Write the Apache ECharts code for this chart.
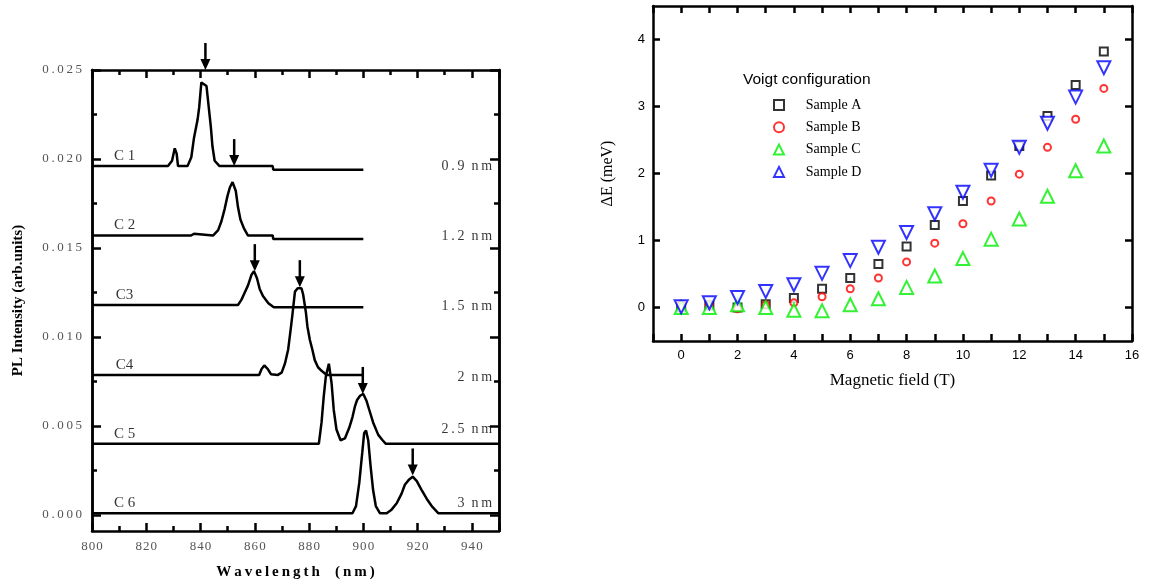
<!DOCTYPE html>
<html><head><meta charset="utf-8">
<script src="https://cdn.jsdelivr.net/npm/echarts@6/dist/echarts.min.js"></script>
<style>html,body{margin:0;padding:0;background:#fff}#c{width:1149px;height:588px}</style>
</head><body><div id="c"></div>
<script>
// ---------- Left panel: PL spectra [wavelength (nm), intensity] ----------
const c1 = [[800,0.0196],[828,0.0196],[829.5,0.0199],[830.5,0.0206],[831.2,0.0203],[831.7,0.0196],[835.2,0.0196],[836.6,0.0201],[837.6,0.0212],[838.9,0.0222],[839.5,0.0229],[840.3,0.0243],[840.9,0.0244],[842.2,0.0241],[843.1,0.0228],[843.8,0.0218],[844.4,0.0207],[845.2,0.0199],[847,0.0196],[866.6,0.0196],[866.8,0.0194],[900,0.0194]];
const c2 = [[800,0.0157],[836.5,0.0157],[836.6,0.0158],[837.6,0.0158],[837.7,0.0157],[844.6,0.0157],[846.5,0.0160],[847.7,0.0165],[848.9,0.0172],[849.9,0.0179],[850.8,0.0184],[851.8,0.0187],[853,0.0182],[853.8,0.0173],[854.7,0.0166],[856,0.0161],[857.5,0.0157],[866.6,0.0157],[866.8,0.0155],[900,0.0155]];
const c3 = [[800,0.0118],[853.8,0.0118],[855.1,0.0121],[856.3,0.0125],[857.5,0.0129],[858.8,0.0135],[859.7,0.0137],[860.8,0.0133],[861.8,0.0127],[863,0.0123],[865,0.0119],[867,0.01167],[900,0.01167]];
const c4 = [[800,0.00787],[861.6,0.00787],[862.5,0.0082],[863.5,0.0084],[864.8,0.0082],[866,0.0079],[868.5,0.00787],[869.9,0.0080],[871.1,0.0085],[872.3,0.0093],[873.2,0.0104],[873.9,0.0113],[874.8,0.01255],[875.8,0.01274],[877.2,0.01274],[877.8,0.0124],[878.8,0.01142],[879.4,0.01058],[880.3,0.00983],[881.2,0.0093],[882.1,0.0087],[883.3,0.0083],[884.6,0.0081],[886.5,0.00787],[900,0.00787]];
const c5 = [[800,0.0040],[883.6,0.0040],[884.6,0.0052],[885.4,0.00665],[886.2,0.0078],[887.3,0.0085],[888.3,0.0074],[889.1,0.0059],[890.1,0.0048],[891.6,0.0042],[893.2,0.0043],[894.8,0.0049],[896,0.0055],[896.9,0.0061],[897.7,0.00646],[898.8,0.0067],[900,0.0068],[901.2,0.0064],[902.4,0.0058],[903.6,0.0052],[905.5,0.0045],[907.1,0.0042],[908.3,0.0040],[950,0.0040]];
const c6 = [[800,0.0001],[896,0.0001],[897.3,0.0005],[898.5,0.0018],[899.6,0.0035],[900.3,0.0046],[901,0.00474],[901.8,0.0042],[902.7,0.0027],[903.6,0.0014],[904.6,0.0005],[906.1,0.0001],[908.6,0.0001],[910.4,0.0003],[912.3,0.00066],[914.1,0.0012],[915.3,0.0017],[916.9,0.0020],[918.2,0.00215],[919.7,0.0019],[921.5,0.0014],[923.4,0.0009],[925.2,0.0005],[927.6,0.0001],[950,0.0001]];
const spectra = [c1, c2, c3, c4, c5, c6];
const curveNames = ['C 1','C 2','C3','C4','C 5','C 6'];
const widthLabels = ['0.9 nm','1.2 nm','1.5 nm','2 nm','2.5 nm','3 nm'];
const baselines = [0.0196, 0.0157, 0.0118, 0.00787, 0.0040, 0.0001];
const arrowTips = [[841.8,0.0250],[852.4,0.0196],[860.0,0.0137],[876.6,0.0128],[899.8,0.0068],[918.2,0.00222]];
const leftYMajor = [0, 0.005, 0.010, 0.015, 0.020, 0.025];
const leftYMinor = [0, 0.0025, 0.005, 0.0075, 0.010, 0.0125, 0.015, 0.0175, 0.020, 0.0225, 0.025];

// ---------- Right panel: Zeeman splitting ----------
const fields = [0,1,2,3,4,5,6,7,8,9,10,11,12,13,14,15];
const sampleA = [0.00,0.03,0.00,0.05,0.14,0.28,0.44,0.65,0.91,1.23,1.59,1.97,2.41,2.86,3.32,3.82];
const sampleB = [0.05,0.04,-0.02,0.04,0.07,0.16,0.28,0.44,0.68,0.96,1.25,1.59,1.99,2.39,2.81,3.27];
const sampleC = [0.00,0.00,0.04,0.00,-0.04,-0.05,0.04,0.13,0.30,0.47,0.73,1.02,1.32,1.66,2.04,2.41];
const sampleD = [0.01,0.07,0.15,0.24,0.34,0.51,0.70,0.90,1.12,1.40,1.72,2.05,2.39,2.75,3.14,3.58];
const rightYTicks = [0,1,2,3,4];

const SERIF = '"Liberation Serif","Times New Roman",serif';
const SANS = '"Liberation Sans",Arial,sans-serif';
const thin = s => String(s).split('').join('\u2009');
const hair = s => String(s).split('').join('\u200A');

const pair = arr => fields.map((f, i) => [f, arr[i]]);

const axisLine = {show: true, onZero: false, lineStyle: {color: '#000', width: 2.5}};
function leftY(pos, values, len, labels) {
  return {
    type: 'value', gridIndex: 0, position: pos, min: -0.0009, max: 0.025,
    axisLine, splitLine: {show: false},
    axisTick: {show: true, inside: true, length: len, lineStyle: {width: 2.5, color: '#000'}, customValues: values},
    axisLabel: labels ? {show: true, customValues: leftYMajor, margin: 10, fontFamily: SERIF, fontSize: 13, color: '#555', formatter: v => thin(v.toFixed(3))} : {show: false}
  };
}
function rightY(pos, labels) {
  return {
    type: 'value', gridIndex: 1, position: pos, min: -0.5, max: 4.5,
    axisLine, splitLine: {show: false},
    axisTick: {show: true, inside: true, length: 7, lineStyle: {width: 2.5, color: '#000'}, customValues: rightYTicks},
    axisLabel: labels ? {show: true, customValues: rightYTicks, margin: 8, fontFamily: SANS, fontSize: 13, color: '#000'} : {show: false}
  };
}

const series = [];
spectra.forEach((d, i) => series.push({
  type: 'line', xAxisIndex: 0, yAxisIndex: 0, data: d, showSymbol: false, symbol: 'none',
  lineStyle: {color: '#000', width: 2.5}, silent: true, z: 3
}));
series.push({
  type: 'custom', xAxisIndex: 0, yAxisIndex: 0, data: arrowTips, clip: false, z: 5,
  renderItem: (params, api) => {
    const p = api.coord([api.value(0), api.value(1)]);
    const L = 27, H = 11, W = 10;
    return {type: 'group', children: [
      {type: 'line', shape: {x1: p[0], y1: p[1] - L, x2: p[0], y2: p[1] - H + 1}, style: {stroke: '#000', lineWidth: 2.5}},
      {type: 'polygon', shape: {points: [[p[0] - W / 2, p[1] - H], [p[0] + W / 2, p[1] - H], [p[0], p[1]]]}, style: {fill: '#000'}}
    ]};
  }
});
const rightOffsets = [0, 1, 1, 2, -14, -10];
series.push({
  type: 'scatter', xAxisIndex: 0, yAxisIndex: 0, symbolSize: 1, itemStyle: {color: 'transparent'}, silent: true, z: 6,
  data: baselines.map((b, i) => ({value: [812, b], label: {formatter: curveNames[i]}})),
  label: {show: true, position: 'inside', offset: [0, -10], fontFamily: SERIF, fontSize: 15, color: '#000'}
});
series.push({
  type: 'scatter', xAxisIndex: 0, yAxisIndex: 0, symbolSize: 1, itemStyle: {color: 'transparent'}, silent: true, z: 6,
  data: baselines.map((b, i) => ({value: [947.5, b], label: {offset: [0, rightOffsets[i]]}})),
  label: {show: true, position: 'inside', align: 'right', fontFamily: SERIF, fontSize: 14, color: '#000',
    formatter: p => { const s = widthLabels[p.dataIndex].split(' '); return thin(s[0]) + '  ' + thin(s[1]); }}
});
const samples = [
  {name: 'Sample A', data: sampleA, symbol: 'emptyRect', size: 8, color: '#000000', legendSize: 9},
  {name: 'Sample B', data: sampleB, symbol: 'emptyCircle', size: 7, color: '#ff0000', legendSize: 8},
  {name: 'Sample C', data: sampleC, symbol: 'emptyTriangle', size: 13, color: '#00ee00', legendSize: 12},
  {name: 'Sample D', data: sampleD, symbol: 'emptyTriangle', size: 13, color: '#0000ff', rotate: 180, legendSize: 12}
];
samples.forEach(s => series.push({
  type: 'scatter', name: s.name, xAxisIndex: 2, yAxisIndex: 4, data: pair(s.data),
  symbol: s.symbol, symbolSize: s.size, symbolRotate: s.rotate || 0, symbolKeepAspect: true,
  itemStyle: {color: s.color, borderColor: s.color, borderWidth: 2.2}, z: 4
}));

const option = {
  animation: false,
  backgroundColor: '#fff',
  title: {text: 'Voigt configuration', left: 743, top: 72, padding: 0, textStyle: {fontFamily: SANS, fontSize: 15.5, fontWeight: 'normal', color: '#000'}},
  legend: {
    data: samples.map(s => s.name),
    orient: 'vertical', left: 773, top: 98, padding: 0,
    itemWidth: 10, itemHeight: 10, itemGap: 8.3, symbolRotate: 'inherit',
    formatter: n => '\u2003\u2009' + n,
    textStyle: {fontFamily: SERIF, fontSize: 14, color: '#000'}
  },
  grid: [
    {left: 92, top: 70, width: 407, height: 461},
    {left: 653, top: 6, width: 479, height: 335}
  ],
  xAxis: [
    {type: 'value', gridIndex: 0, position: 'bottom', min: 800, max: 950, interval: 20,
      axisLine, splitLine: {show: false},
      axisTick: {show: true, inside: true, length: 8, lineStyle: {width: 2.5, color: '#000'}},
      minorTick: {show: true, splitNumber: 2, length: 5, lineStyle: {width: 2.5, color: '#000'}},
      axisLabel: {margin: 9, fontFamily: SERIF, fontSize: 13, color: '#555', formatter: v => hair(v), showMaxLabel: false},
      name: thin('Wavelength') + '\u2003' + thin('(nm)'), nameLocation: 'middle', nameGap: 34,
      nameTextStyle: {fontFamily: SERIF, fontSize: 15, fontWeight: 'bold', color: '#000'}},
    {type: 'value', gridIndex: 0, position: 'top', min: 800, max: 950, interval: 20,
      axisLine, splitLine: {show: false},
      axisTick: {show: true, inside: true, length: 8, lineStyle: {width: 2.5, color: '#000'}},
      minorTick: {show: true, splitNumber: 2, length: 5, lineStyle: {width: 2.5, color: '#000'}},
      axisLabel: {show: false}},
    {type: 'value', gridIndex: 1, position: 'bottom', min: -1, max: 16, interval: 1,
      axisLine, splitLine: {show: false},
      axisTick: {show: true, inside: true, length: 7, lineStyle: {width: 2.5, color: '#000'}},
      axisLabel: {margin: 8, fontFamily: SANS, fontSize: 13, color: '#000', formatter: v => (v >= 0 && v % 2 === 0) ? String(v) : ''},
      name: 'Magnetic field (T)', nameLocation: 'middle', nameGap: 31,
      nameTextStyle: {fontFamily: SERIF, fontSize: 17, color: '#000'}},
    {type: 'value', gridIndex: 1, position: 'top', min: -1, max: 16, interval: 1,
      axisLine, splitLine: {show: false},
      axisTick: {show: true, inside: true, length: 7, lineStyle: {width: 2.5, color: '#000'}},
      axisLabel: {show: false}}
  ],
  yAxis: [
    Object.assign(leftY('left', leftYMajor, 9, true), {
      name: 'PL Intensity (arb.units)', nameLocation: 'middle', nameGap: 66,
      nameTextStyle: {fontFamily: SERIF, fontSize: 15, fontWeight: 'bold', color: '#000'}}),
    leftY('left', leftYMinor, 5, false),
    leftY('right', leftYMajor, 9, false),
    leftY('right', leftYMinor, 5, false),
    Object.assign(rightY('left', true), {
      name: '\u0394E (meV)', nameLocation: 'middle', nameGap: 37,
      nameTextStyle: {fontFamily: SERIF, fontSize: 16, color: '#000'}}),
    rightY('right', false)
  ],
  series
};
const chart = echarts.init(document.getElementById('c'), null, {renderer: 'canvas'});
chart.setOption(option);
</script></body></html>
